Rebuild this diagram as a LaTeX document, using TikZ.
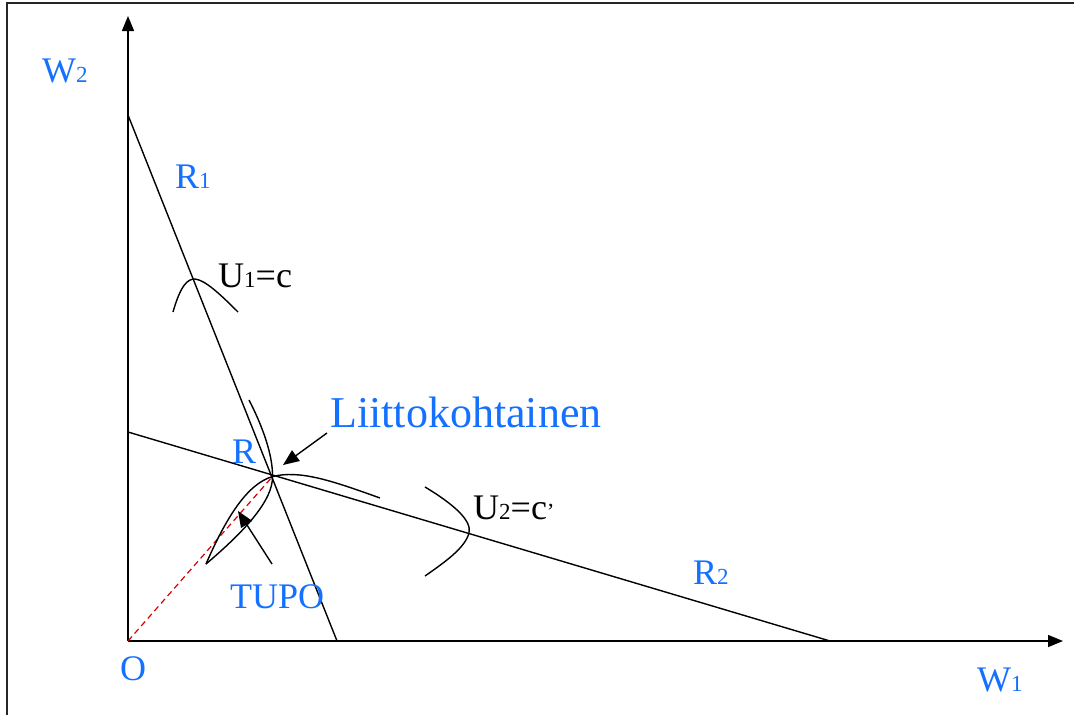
\documentclass[tikz,border=0pt]{standalone}
\usepackage{fontspec}
\setmainfont{Liberation Serif}
\usetikzlibrary{arrows.meta}
\definecolor{lblue}{RGB}{20,112,255}
\newcommand{\lowidx}[1]{{\fontsize{23}{25}\selectfont #1}}
\tikzset{
  frameline/.style={line width=2pt,black!85},
  axisline/.style={line width=1.5pt,-{Triangle[length=15pt,width=12pt]}},
  budget/.style={line width=1.4pt},
  indiff/.style={line width=1.4pt},
  pointer/.style={line width=1.4pt,-{Triangle[length=16pt,width=13pt]}},
  ray/.style={red!85!black,line width=1.2pt,dash pattern=on 6pt off 4pt},
  blab/.style={text=lblue,inner sep=0pt,anchor=base west,font=\fontsize{36}{40}\selectfont},
  klab/.style={text=black,inner sep=0pt,anchor=base west,font=\fontsize{36}{40}\selectfont},
}
\begin{document}
\begin{tikzpicture}[x=1pt,y=-1pt]
\useasboundingbox (0,0) rectangle (1074,715);
% frame (open at right and bottom)
\draw[frameline] (7,716) -- (7,3) -- (1075,3);
% key points
\coordinate (O) at (128,641);
\coordinate (Ytip) at (128,16);
\coordinate (Xtip) at (1063,641);
\coordinate (A1) at (128,115);
\coordinate (B1) at (337,641);
\coordinate (A2) at (128,432);
\coordinate (B2) at (830,641);
\coordinate (R) at (272.5,476.5);
% axes
\draw[axisline] (O) -- (Ytip);
\draw[axisline] (O) -- (Xtip);
% budget lines
\draw[budget] (A1) -- (B1);
\draw[budget] (A2) -- (B2);
% red dashed ray
\draw[ray] (O) -- (R);
% indifference curves
\coordinate (u1a) at (173,312);
\coordinate (u1b) at (238,312);
\draw[indiff] (u1a) .. controls (181,284) and (188,279) .. (195,279)
               .. controls (205,280) and (220,294) .. (u1b);
\coordinate (u2a) at (425,487);
\coordinate (u2b) at (425,576);
\draw[indiff] (u2a) .. controls (455,505) and (472,521) .. (469,533)
               .. controls (465,548) and (445,562) .. (u2b);
% curves through R
\coordinate (ca) at (249,400);
\coordinate (cb) at (380,498);
\draw[indiff] (ca) .. controls (262,425) and (273,455) .. (R)
               .. controls (300,470) and (330,480) .. (cb);
% TUPO lens
\coordinate (tp) at (206,564);
\draw[indiff] (R) .. controls (247,484) and (226,518) .. (tp);
\draw[indiff] (R) .. controls (273,500) and (246,530) .. (tp);
% labels
\node[blab] (w2) at (42,82) {W\lowidx{2}};
\node[blab] (r1) at (175,188) {R\lowidx{1}};
\node[klab] (u1) at (218,287) {U\lowidx{1}=c};
\node[blab,font=\fontsize{44}{48}\selectfont] (liitto) at (330,427) {Liittokohtainen};
\node[blab] (rl) at (232,463) {R};
\node[klab] (u2) at (473,519) {U\lowidx{2}=c\lowidx{’}};
\node[blab] (tupo) at (230,608) {TUPO};
\node[blab] (r2) at (693,584) {R\lowidx{2}};
\node[blab] (o) at (120,680) {O};
\node[blab] (w1) at (977,691) {W\lowidx{1}};
% pointer arrows
\coordinate (la) at (327,433);
\coordinate (lb) at (283,465);
\coordinate (ta) at (272,564);
\coordinate (tb) at (238,511);
\draw[pointer] (la) -- (lb);
\draw[pointer] (ta) -- (tb);
\end{tikzpicture}
\end{document}
